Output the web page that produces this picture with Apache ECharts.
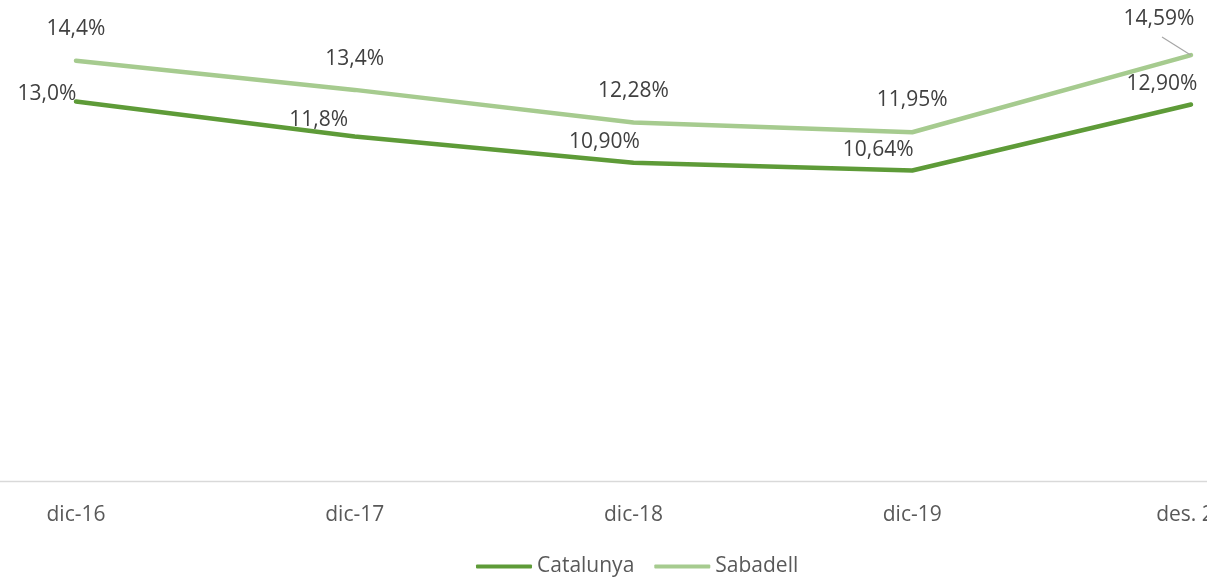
<!DOCTYPE html>
<html>
<head>
<meta charset="utf-8">
<script src="https://cdn.jsdelivr.net/npm/echarts@6/dist/echarts.min.js"></script>
<style>html,body{margin:0;padding:0;background:#fff}#c{width:1207px;height:578px}</style>
</head>
<body>
<div id="c"></div>
<script>
const categories = ['dic-16', 'dic-17', 'dic-18', 'dic-19', 'des. 20'];
const catalunya = [13.0, 11.8, 10.90, 10.64, 12.90];
const sabadell = [14.4, 13.4, 12.28, 11.95, 14.59];
const catalunyaDecimals = [1, 1, 2, 2, 2];
const sabadellDecimals = [1, 1, 2, 2, 2];

const catOffsets = [[-29, -8], [-36, -17], [-29, -21], [-34, -20], [-29, -20]];
const sabOffsets = [[0, -32], [0, -31], [0, -32], [0, -32], [-32, -36]];

function fmt(v, d) { return v.toFixed(d).replace('.', ',') + '%'; }

const FONT = 'Open Sans';
const FS = 21;
const labelBase = { show: true, position: 'inside', color: '#404040', fontSize: FS, fontFamily: FONT };

const chart = echarts.init(document.getElementById('c'), null, { renderer: 'canvas' });
chart.setOption({
  animation: false,
  backgroundColor: '#fff',
  grid: { left: 76, right: 16, top: 14, bottom: 97, containLabel: false, outerBoundsMode: 'none' },
  graphic: [{
    type: 'line', z: 1, silent: true,
    shape: { x1: 0, y1: 481.5, x2: 1207, y2: 481.5 },
    style: { stroke: '#d9d9d9', lineWidth: 1.5 }
  }],
  xAxis: {
    type: 'category', data: categories, boundaryGap: false,
    axisLine: { show: false },
    axisTick: { show: false },
    axisLabel: { color: '#595959', fontSize: FS, fontFamily: FONT, margin: 24, hideOverlap: false }
  },
  yAxis: { type: 'value', min: 0, max: 16, interval: 2, show: false, splitLine: { show: false } },
  legend: {
    top: 551, left: 471, itemWidth: 56, itemHeight: 4, itemGap: 20, icon: 'roundRect',
    textStyle: { color: '#595959', fontSize: FS, fontFamily: FONT },
    data: ['Catalunya', 'Sabadell']
  },
  series: [
    {
      name: 'Catalunya', type: 'line', symbol: 'circle', symbolSize: 1, showSymbol: true,
      lineStyle: { color: '#5e9b38', width: 4.5, cap: 'round' },
      itemStyle: { color: '#5e9b38' },
      data: catalunya.map((v, i) => ({ value: v, label: Object.assign({}, labelBase, { offset: catOffsets[i], formatter: fmt(v, catalunyaDecimals[i]) }) }))
    },
    {
      name: 'Sabadell', type: 'line', symbol: 'circle', symbolSize: 1, showSymbol: true,
      lineStyle: { color: '#a6cb8f', width: 4.5, cap: 'round' },
      itemStyle: { color: '#a6cb8f' },
      data: sabadell.map((v, i) => ({ value: v, label: Object.assign({}, labelBase, { offset: sabOffsets[i], formatter: fmt(v, sabadellDecimals[i]) }) })),
      markLine: {
        silent: true, symbol: 'none', label: { show: false },
        lineStyle: { color: '#a6a6a6', width: 1.2, type: 'solid' },
        data: [[{ coord: [categories[4], sabadell[4]] }, { x: 1162, y: 37 }]]
      }
    }
  ]
});
</script>
</body>
</html>
